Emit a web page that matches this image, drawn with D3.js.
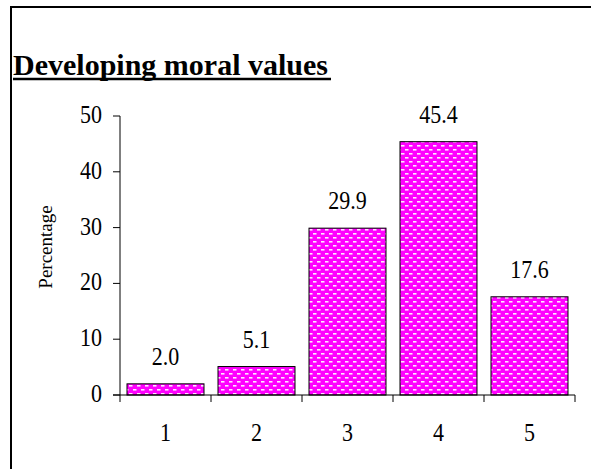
<!DOCTYPE html>
<html>
<head>
<meta charset="utf-8">
<script src="https://cdn.jsdelivr.net/npm/d3@7"></script>
<style>
body { margin: 0; background: #fff; }
text { font-family: "Liberation Serif", "Times New Roman", serif; fill: #000; }
</style>
</head>
<body>
<div id="chart"></div>
<script>
// data
var categories = ["1", "2", "3", "4", "5"];
var values = [2.0, 5.1, 29.9, 45.4, 17.6];
var yTicks = [0, 10, 20, 30, 40, 50];
var titleText = "Developing moral values";
var yLabel = "Percentage";

var W = 591, H = 469;
var margin = {t: 116, r: 16, b: 74, l: 120};
var stretch = 1.1; // numbers in the picture are a bit taller than wide

var svg = d3.select('#chart').append('svg')
    .attr('width', W)
    .attr('height', H);

// brick like pattern on the bars
var pat = svg.append('defs').append('pattern')
    .attr('id', 'brick')
    .attr('patternUnits', 'userSpaceOnUse')
    .attr('width', 8).attr('height', 8);
pat.append('rect').attr('width', 8).attr('height', 8).attr('fill', '#ff00ff');
pat.append('rect').attr('x', 1).attr('y', 1).attr('width', 3.5).attr('height', 1.6).attr('fill', '#ffe6ff');
pat.append('rect').attr('x', 5).attr('y', 5).attr('width', 3.5).attr('height', 1.6).attr('fill', '#ffe6ff');
pat.append('rect').attr('x', -3).attr('y', 5).attr('width', 3.5).attr('height', 1.6).attr('fill', '#ffe6ff');

// frame, runs off the right and bottom
svg.append('rect')
    .attr('x', 11).attr('y', 7)
    .attr('width', W + 20).attr('height', H + 20)
    .attr('fill', 'none')
    .attr('stroke', '#000')
    .attr('stroke-width', 2);

// title
svg.append('text')
    .attr('x', 13).attr('y', 75)
    .attr('font-size', 30)
    .attr('font-weight', 'bold')
    .text(titleText);
svg.append('line')
    .attr('x1', 13).attr('x2', 331)
    .attr('y1', 79).attr('y2', 79)
    .attr('stroke', '#000')
    .attr('stroke-width', 2.5);

var x = d3.scaleBand().domain(categories)
    .range([margin.l, W - margin.r])
    .paddingInner(0.154).paddingOuter(0.077);
var y = d3.scaleLinear().domain([0, 50]).range([H - margin.b, margin.t]);

// bars
svg.selectAll('.bar')
    .data(values)
    .enter()
    .append('rect')
    .attr('class', 'bar')
    .attr('x', function(d, i) { return x(categories[i]); })
    .attr('y', function(d) { return y(d); })
    .attr('width', x.bandwidth())
    .attr('height', function(d) { return y(0) - y(d); })
    .attr('fill', 'url(#brick)')
    .attr('stroke', '#000')
    .attr('stroke-width', 1);

// value labels
svg.selectAll('.val')
    .data(values)
    .enter()
    .append('g')
    .attr('class', 'val')
    .attr('transform', function(d, i) {
        return 'translate(' + (x(categories[i]) + x.bandwidth() / 2) + ',' + (y(d) - 19) + ') scale(1,' + stretch + ')';
    })
    .append('text')
    .attr('text-anchor', 'middle')
    .attr('font-size', 22)
    .text(function(d) { return d.toFixed(1); });

// y axis
var gy = svg.append('g').attr('transform', 'translate(' + margin.l + ',0)');
gy.append('line')
    .attr('x1', 0).attr('x2', 0)
    .attr('y1', y(50)).attr('y2', y(0))
    .attr('stroke', '#000');
gy.selectAll('.tk')
    .data(yTicks)
    .enter()
    .append('line')
    .attr('x1', -7).attr('x2', 0)
    .attr('y1', function(d) { return y(d); })
    .attr('y2', function(d) { return y(d); })
    .attr('stroke', '#000');
gy.selectAll('.tl')
    .data(yTicks)
    .enter()
    .append('g')
    .attr('transform', function(d) { return 'translate(-18,' + (y(d) + 7) + ') scale(1,' + stretch + ')'; })
    .append('text')
    .attr('text-anchor', 'end')
    .attr('font-size', 22)
    .text(function(d) { return d; });

// x axis
var gx = svg.append('g').attr('transform', 'translate(0,' + y(0) + ')');
gx.append('line')
    .attr('x1', margin.l - 7).attr('x2', W - margin.r)
    .attr('y1', 0).attr('y2', 0)
    .attr('stroke', '#000');
var bounds = categories.map(function(c) { return x(c) - x.step() * x.paddingOuter(); });
bounds.push(W - margin.r);
gx.selectAll('.xt')
    .data(bounds)
    .enter()
    .append('line')
    .attr('x1', function(d) { return d; })
    .attr('x2', function(d) { return d; })
    .attr('y1', 0).attr('y2', 7)
    .attr('stroke', '#000');
gx.selectAll('.xl')
    .data(categories)
    .enter()
    .append('g')
    .attr('transform', function(d) { return 'translate(' + (x(d) + x.bandwidth() / 2) + ',46) scale(1,' + stretch + ')'; })
    .append('text')
    .attr('text-anchor', 'middle')
    .attr('font-size', 22)
    .text(function(d) { return d; });

// y label
svg.append('g')
    .attr('transform', 'translate(52,247) rotate(-90)')
    .append('text')
    .attr('text-anchor', 'middle')
    .attr('font-size', 19)
    .text(yLabel);
</script>
</body>
</html>
